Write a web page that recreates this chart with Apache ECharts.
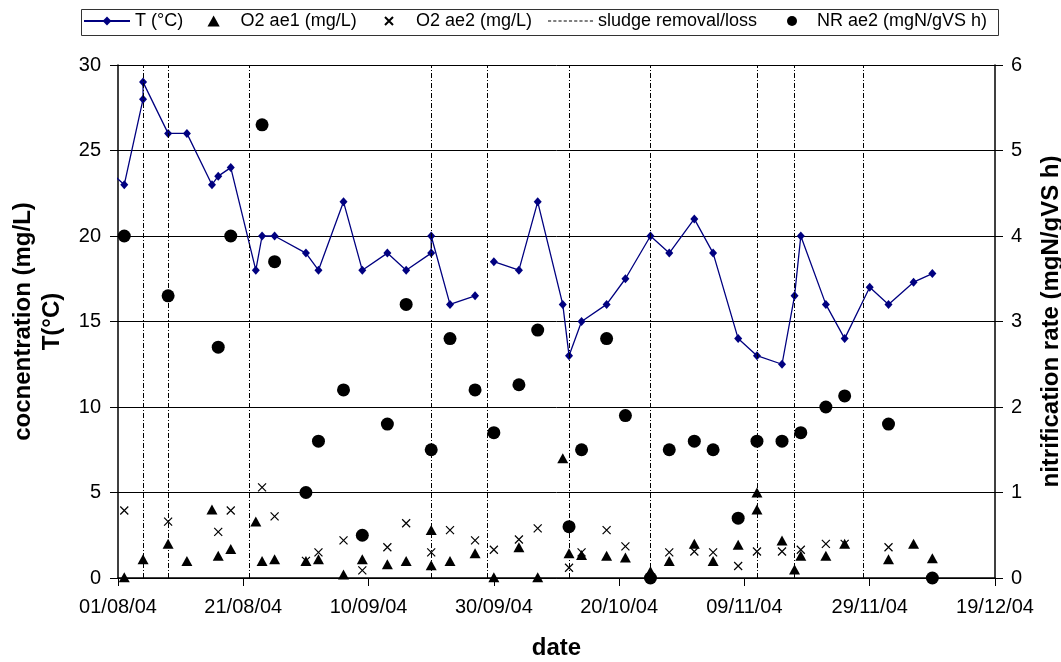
<!DOCTYPE html>
<html><head><meta charset="utf-8">
<script src="https://cdn.jsdelivr.net/npm/echarts@6/dist/echarts.min.js"></script>
<style>html,body{margin:0;padding:0;background:#fff}#c{width:1061px;height:662px}</style>
</head><body><div id="c"></div>
<script>
const startDate = '2004-08-01';
const endDate = '2004-12-19';
const xTickLabels = ['01/08/04','21/08/04','10/09/04','30/09/04','20/10/04','09/11/04','29/11/04','19/12/04'];

const tDates = ['2004-07-30','2004-08-02','2004-08-05','2004-08-05','2004-08-09','2004-08-12','2004-08-16','2004-08-17','2004-08-19','2004-08-23','2004-08-24','2004-08-26','2004-08-31','2004-09-02','2004-09-06','2004-09-09','2004-09-13','2004-09-16','2004-09-20','2004-09-20','2004-09-23','2004-09-27','2004-09-28','2004-09-30','2004-10-04','2004-10-07','2004-10-11','2004-10-12','2004-10-14','2004-10-18','2004-10-21','2004-10-25','2004-10-28','2004-11-01','2004-11-04','2004-11-08','2004-11-11','2004-11-15','2004-11-17','2004-11-18','2004-11-22','2004-11-25','2004-11-29','2004-12-02','2004-12-06','2004-12-09'];
const tValues = [24,23,28,29,26,26,23,23.5,24,18,20,20,19,18,22,18,19,18,19,20,16,16.5,null,18.5,18,22,16,13,15,16,17.5,20,19,21,19,14,13,12.5,16.5,20,16,14,17,16,17.3,17.8];

const o2ae1Dates = ['2004-08-02','2004-08-05','2004-08-09','2004-08-12','2004-08-16','2004-08-17','2004-08-19','2004-08-23','2004-08-24','2004-08-26','2004-08-31','2004-09-02','2004-09-06','2004-09-09','2004-09-13','2004-09-16','2004-09-20','2004-09-20','2004-09-23','2004-09-27','2004-09-30','2004-10-04','2004-10-07','2004-10-11','2004-10-12','2004-10-14','2004-10-18','2004-10-21','2004-10-25','2004-10-28','2004-11-01','2004-11-04','2004-11-08','2004-11-11','2004-11-11','2004-11-15','2004-11-17','2004-11-18','2004-11-22','2004-11-25','2004-12-02','2004-12-06','2004-12-09'];
const o2ae1Values = [0.05,1.1,2.0,1.0,4.0,1.3,1.7,3.3,1.0,1.1,1.0,1.1,0.2,1.1,0.8,1.0,2.8,0.75,1.0,1.45,0.05,1.8,0.05,7.0,1.45,1.35,1.3,1.2,0.4,1.0,2.0,1.0,1.95,5.0,4.0,2.2,0.5,1.3,1.3,2.0,1.1,2.0,1.15];

const o2ae2Dates = ['2004-08-02','2004-08-09','2004-08-17','2004-08-19','2004-08-24','2004-08-26','2004-08-31','2004-09-02','2004-09-06','2004-09-09','2004-09-13','2004-09-16','2004-09-20','2004-09-23','2004-09-27','2004-09-30','2004-10-04','2004-10-07','2004-10-12','2004-10-14','2004-10-18','2004-10-21','2004-10-28','2004-11-01','2004-11-04','2004-11-08','2004-11-11','2004-11-15','2004-11-18','2004-11-22','2004-11-25','2004-12-02'];
const o2ae2Values = [3.95,3.3,2.7,3.95,5.3,3.6,1.0,1.5,2.2,0.45,1.8,3.2,1.5,2.8,2.2,1.65,2.25,2.9,0.6,1.5,2.8,1.85,1.5,1.55,1.5,0.7,1.55,1.55,1.65,2.0,2.0,1.8];

const nrDates = ['2004-08-02','2004-08-09','2004-08-17','2004-08-19','2004-08-24','2004-08-26','2004-08-31','2004-09-02','2004-09-06','2004-09-09','2004-09-13','2004-09-16','2004-09-20','2004-09-23','2004-09-27','2004-09-30','2004-10-04','2004-10-07','2004-10-12','2004-10-14','2004-10-18','2004-10-21','2004-10-25','2004-10-28','2004-11-01','2004-11-04','2004-11-08','2004-11-11','2004-11-15','2004-11-18','2004-11-22','2004-11-25','2004-12-02','2004-12-09'];
const nrValues = [4.0,3.3,2.7,4.0,5.3,3.7,1.0,1.6,2.2,0.5,1.8,3.2,1.5,2.8,2.2,1.7,2.26,2.9,0.6,1.5,2.8,1.9,0,1.5,1.6,1.5,0.7,1.6,1.6,1.7,2.0,2.13,1.8,0];

const sludgeDates = ['2004-08-05','2004-08-09','2004-08-22','2004-09-20','2004-09-29','2004-10-12','2004-10-25','2004-11-11','2004-11-17','2004-11-28'];

const DAY = 86400000;
const day = s => (Date.parse(s) - Date.parse(startDate)) / DAY;
const pairs = (d, v) => d.map((s, i) => [day(s), v[i] == null ? '-' : v[i]]);

const FONT = '"Liberation Sans", Arial, sans-serif';
const crossPath = 'path://M0,0L10,10M10,0L0,10';
const triPath = 'path://M5,0L10,9L0,9Z';
let dashPath = 'path://';
for (let i = 0; i < 9; i++) dashPath += 'M' + (i * 5) + ',0h3v1h-3Z';

const legTop = 12;
const legText = {fontFamily: FONT, fontSize: 18, color: '#000'};
const mkLegend = (name, left, w, h) => ({
  data: [name], left: left, top: legTop, padding: 0,
  itemWidth: w, itemHeight: h, textStyle: legText, selectedMode: false
});

const chart = echarts.init(document.getElementById('c'), null, {renderer: 'canvas'});
chart.setOption({
  animation: false,
  backgroundColor: '#fff',
  textStyle: {fontFamily: FONT, color: '#000'},
  grid: {left: 118, right: 66, top: 65, bottom: 84, containLabel: false, outerBoundsMode: 'none'},
  graphic: [{
    type: 'rect', left: 79, top: 7, z: 0, silent: true,
    shape: {width: 917, height: 26},
    style: {fill: 'none', stroke: '#333', lineWidth: 1}
  }],
  legend: [
    mkLegend('T (°C)', 83, 46, 11),
    mkLegend('O2 ae1 (mg/L)', 207.5, 44, 11),
    mkLegend('O2 ae2 (mg/L)', 384, 44, 8),
    {
      data: [{name: 'sludge removal/loss', icon: dashPath}],
      left: 548, top: legTop, padding: 0, itemWidth: 45, itemHeight: 11,
      textStyle: legText, selectedMode: false
    },
    mkLegend('NR ae2 (mgN/gVS h)', 787, 40, 10)
  ],
  xAxis: {
    type: 'value', min: 0, max: day(endDate), interval: 20,
    name: 'date', nameLocation: 'middle', nameGap: 58,
    nameTextStyle: {fontFamily: FONT, fontSize: 24, fontWeight: 'bold', color: '#000'},
    axisLine: {lineStyle: {color: '#000', width: 1.5}},
    axisTick: {show: true, length: 8, lineStyle: {color: '#000'}},
    axisLabel: {fontFamily: FONT, fontSize: 20, color: '#000', margin: 19,
      formatter: v => xTickLabels[Math.round(v / 20)]},
    splitLine: {show: false}
  },
  yAxis: [{
    type: 'value', min: 0, max: 30, interval: 5, position: 'left',
    name: 'cocnentration (mg/L)\nT(°C)', nameLocation: 'middle', nameRotate: 90, nameGap: 51,
    nameTextStyle: {fontFamily: FONT, fontSize: 24, fontWeight: 'bold', color: '#000', lineHeight: 29, align: 'center'},
    axisLine: {show: true, lineStyle: {color: '#000', width: 1.5}},
    axisTick: {show: true, length: 8, lineStyle: {color: '#000'}},
    axisLabel: {fontFamily: FONT, fontSize: 20, color: '#000', margin: 17},
    splitLine: {show: true, lineStyle: {color: '#000', width: 1}}
  }, {
    type: 'value', min: 0, max: 6, interval: 1, position: 'right',
    name: 'nitrification rate (mgN/gVS h)', nameLocation: 'middle', nameRotate: 90, nameGap: 42,
    nameTextStyle: {fontFamily: FONT, fontSize: 24, fontWeight: 'bold', color: '#000', lineHeight: 29},
    axisLine: {show: true, lineStyle: {color: '#000', width: 1.5}},
    axisTick: {show: true, length: 8, lineStyle: {color: '#000'}},
    axisLabel: {fontFamily: FONT, fontSize: 20, color: '#000', margin: 16},
    splitLine: {show: false}
  }],
  series: [
    {
      name: 'sludge removal/loss', type: 'line', data: [], symbol: 'none', z: 1,
      lineStyle: {color: '#000', width: 1, type: [3, 2]},
      itemStyle: {color: '#000'},
      markLine: {
        silent: true, symbol: ['none', 'none'], label: {show: false}, animation: false,
        lineStyle: {color: '#000', width: 1, type: [5, 2, 1, 2]},
        data: sludgeDates.map(s => ({xAxis: day(s)}))
      }
    },
    {
      name: 'T (°C)', type: 'line', yAxisIndex: 0, data: pairs(tDates, tValues),
      connectNulls: false, clip: true,
      symbol: 'diamond', symbolSize: [8, 9], showSymbol: true, z: 3,
      lineStyle: {color: '#000080', width: 1.3},
      itemStyle: {color: '#000080', opacity: 1}
    },
    {
      name: 'O2 ae1 (mg/L)', type: 'scatter', yAxisIndex: 0, data: pairs(o2ae1Dates, o2ae1Values),
      symbol: triPath, symbolSize: [11, 10], z: 4,
      itemStyle: {color: '#000', opacity: 1}
    },
    {
      name: 'O2 ae2 (mg/L)', type: 'scatter', yAxisIndex: 0, data: pairs(o2ae2Dates, o2ae2Values),
      symbol: crossPath, symbolSize: 8, z: 4,
      itemStyle: {color: '#000', borderColor: '#000', borderWidth: 1.2, opacity: 1}
    },
    {
      name: 'NR ae2 (mgN/gVS h)', type: 'scatter', yAxisIndex: 1, data: pairs(nrDates, nrValues),
      symbol: 'circle', symbolSize: 13, z: 5,
      itemStyle: {color: '#000', opacity: 1}
    }
  ]
});
</script>
</body></html>
